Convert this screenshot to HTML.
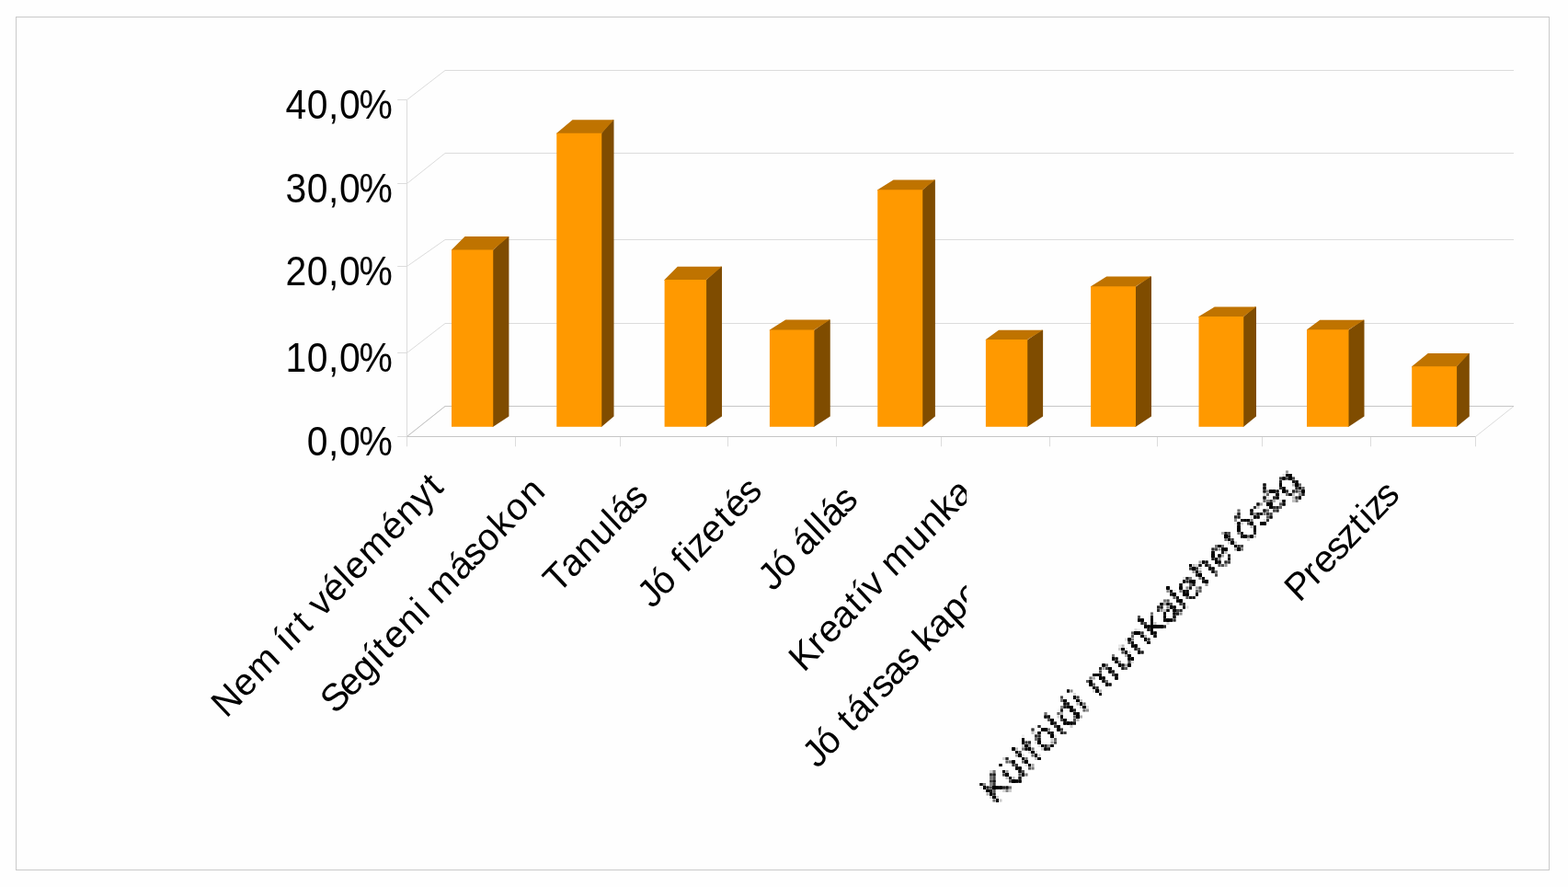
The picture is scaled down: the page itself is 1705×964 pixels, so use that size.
<!DOCTYPE html>
<html lang="hu">
<head>
<meta charset="utf-8">
<title>Diagram</title>
<style>
html,body{margin:0;padding:0;background:#fefefe;}
body{width:1705px;height:964px;overflow:hidden;position:relative;}
svg{position:absolute;left:0;top:0;display:block;}
text{font-family:"Liberation Sans",sans-serif;fill:#000;}
</style>
</head>
<body>
<svg width="1705" height="964" viewBox="0 0 1705 964">
<rect x="0" y="0" width="1705" height="964" fill="#fefefe"/>
<rect x="17.5" y="18.5" width="1667" height="927" fill="none" stroke="#c9c9c9" stroke-width="1"/>

<g fill="none" stroke="#dcdcdc" stroke-width="1">
<path d="M442.50 108.50 L484.00 76.50 L1646.00 76.50"/>
<path d="M442.50 199.50 L484.00 166.50 L1646.00 166.50"/>
<path d="M442.50 289.50 L484.00 260.50 L1646.00 260.50"/>
<path d="M442.50 383.50 L484.00 351.50 L1646.00 351.50"/>
<path d="M442.50 474.50 L484.00 441.50 L1646.00 441.50"/>
<path d="M1646.00 441.50 L1604.50 474.50"/>
</g>
<g fill="none" stroke="#c6c6c6" stroke-width="1">
<path d="M484.00 441.50 L1646.00 441.50"/>
<path d="M442.50 474.50 L484.00 441.50"/>
</g>
<g fill="none" stroke="#dcdcdc" stroke-width="1">
<path d="M442.50 108.50 L442.50 485.30"/>
<path d="M432.20 108.50 L442.50 108.50"/>
<path d="M432.20 199.50 L442.50 199.50"/>
<path d="M432.20 289.50 L442.50 289.50"/>
<path d="M432.20 383.50 L442.50 383.50"/>
<path d="M432.20 474.50 L442.50 474.50"/>
<path d="M560.50 474.50 L560.50 485.30"/>
<path d="M674.50 474.50 L674.50 485.30"/>
<path d="M791.50 474.50 L791.50 485.30"/>
<path d="M909.50 474.50 L909.50 485.30"/>
<path d="M1023.50 474.50 L1023.50 485.30"/>
<path d="M1141.50 474.50 L1141.50 485.30"/>
<path d="M1258.50 474.50 L1258.50 485.30"/>
<path d="M1372.50 474.50 L1372.50 485.30"/>
<path d="M1490.50 474.50 L1490.50 485.30"/>
<path d="M1604.50 474.50 L1604.50 485.30"/>
</g>
<path d="M442.50 474.50 L1604.50 474.50" fill="none" stroke="#c6c6c6" stroke-width="1"/>
<polygon points="535.25,272.50 551.90,257.00 553.40,257.00 553.40,452.60 536.25,463.80 535.25,463.80" fill="#7f4c00"/>
<polygon points="491.00,272.50 491.00,271.50 505.50,257.00 553.40,257.00 536.25,271.50 536.25,272.50" fill="#bf7300"/>
<rect x="491.00" y="271.50" width="45.25" height="192.30" fill="#ff9900"/>
<polygon points="653.25,145.75 666.00,130.25 667.50,130.25 667.50,452.60 654.25,463.80 653.25,463.80" fill="#7f4c00"/>
<polygon points="605.25,145.75 605.25,144.75 622.50,130.25 667.50,130.25 654.25,144.75 654.25,145.75" fill="#bf7300"/>
<rect x="605.25" y="144.75" width="49.00" height="319.05" fill="#ff9900"/>
<polygon points="767.10,305.00 783.50,289.75 785.00,289.75 785.00,452.60 768.10,463.80 767.10,463.80" fill="#7f4c00"/>
<polygon points="722.60,305.00 722.60,304.00 736.75,289.75 785.00,289.75 768.10,304.00 768.10,305.00" fill="#bf7300"/>
<rect x="722.60" y="304.00" width="45.50" height="159.80" fill="#ff9900"/>
<polygon points="884.40,359.50 901.25,347.50 902.75,347.50 902.75,452.60 885.40,463.80 884.40,463.80" fill="#7f4c00"/>
<polygon points="836.90,359.50 836.90,358.50 854.25,347.50 902.75,347.50 885.40,358.50 885.40,359.50" fill="#bf7300"/>
<rect x="836.90" y="358.50" width="48.50" height="105.30" fill="#ff9900"/>
<polygon points="1002.25,207.25 1015.40,195.50 1016.90,195.50 1016.90,452.60 1003.25,463.80 1002.25,463.80" fill="#7f4c00"/>
<polygon points="954.25,207.25 954.25,206.25 971.50,195.50 1016.90,195.50 1003.25,206.25 1003.25,207.25" fill="#bf7300"/>
<rect x="954.25" y="206.25" width="49.00" height="257.55" fill="#ff9900"/>
<polygon points="1116.25,370.00 1132.60,358.75 1134.10,358.75 1134.10,452.60 1117.25,463.80 1116.25,463.80" fill="#7f4c00"/>
<polygon points="1071.90,370.00 1071.90,369.00 1086.00,358.75 1134.10,358.75 1117.25,369.00 1117.25,370.00" fill="#bf7300"/>
<rect x="1071.90" y="369.00" width="45.35" height="94.80" fill="#ff9900"/>
<polygon points="1234.00,312.25 1250.50,300.50 1252.00,300.50 1252.00,452.60 1235.00,463.80 1234.00,463.80" fill="#7f4c00"/>
<polygon points="1186.10,312.25 1186.10,311.25 1203.25,300.50 1252.00,300.50 1235.00,311.25 1235.00,312.25" fill="#bf7300"/>
<rect x="1186.10" y="311.25" width="48.90" height="152.55" fill="#ff9900"/>
<polygon points="1351.25,345.00 1364.50,333.50 1366.00,333.50 1366.00,452.60 1352.25,463.80 1351.25,463.80" fill="#7f4c00"/>
<polygon points="1303.50,345.00 1303.50,344.00 1320.75,333.50 1366.00,333.50 1352.25,344.00 1352.25,345.00" fill="#bf7300"/>
<rect x="1303.50" y="344.00" width="48.75" height="119.80" fill="#ff9900"/>
<polygon points="1465.50,359.25 1482.00,347.75 1483.50,347.75 1483.50,452.60 1466.50,463.80 1465.50,463.80" fill="#7f4c00"/>
<polygon points="1421.00,359.25 1421.00,358.25 1435.25,347.75 1483.50,347.75 1466.50,358.25 1466.50,359.25" fill="#bf7300"/>
<rect x="1421.00" y="358.25" width="45.50" height="105.55" fill="#ff9900"/>
<polygon points="1583.10,399.20 1596.30,383.90 1597.80,383.90 1597.80,452.60 1584.10,463.80 1583.10,463.80" fill="#7f4c00"/>
<polygon points="1535.20,399.20 1535.20,398.20 1552.70,383.90 1597.80,383.90 1584.10,398.20 1584.10,399.20" fill="#bf7300"/>
<rect x="1535.20" y="398.20" width="48.90" height="65.60" fill="#ff9900"/>
<text font-size="44.30" transform="translate(425.30 128.70) scale(0.923 1)" x="-124.5 -99.1 -73.9 -61.0 -37.7">40,0%</text>
<text font-size="44.30" transform="translate(425.30 219.70) scale(0.923 1)" x="-124.5 -99.1 -73.9 -61.0 -37.7">30,0%</text>
<text font-size="44.30" transform="translate(425.30 310.40) scale(0.923 1)" x="-124.5 -99.1 -73.9 -61.0 -37.7">20,0%</text>
<text font-size="44.30" transform="translate(425.30 404.30) scale(0.923 1)" x="-124.5 -99.1 -73.9 -61.0 -37.7">10,0%</text>
<text font-size="44.30" transform="translate(425.30 495.30) scale(0.923 1)" x="-99.1 -73.9 -61.0 -37.7">0,0%</text>
<g>
<text font-size="39.60" transform="translate(485.30 530.20) scale(1 1.050) rotate(-45)" x="-338.4 -309.6 -286.2 -252.4 -242.2 -230.4 -214.1 -201.6 -190.9 -170.8 -148.0 -138.4 -115.0 -80.6 -57.8 -34.9 -13.0">Nem írt véleményt</text>
<text font-size="39.60" transform="translate(595.00 535.30) scale(1 1.050) rotate(-45)" x="-325.9 -302.1 -280.3 -259.0 -246.3 -233.1 -210.1 -186.5 -177.3 -165.3 -131.0 -110.3 -90.7 -67.5 -46.5 -22.8">Segíteni másokon</text>
<text font-size="39.60" transform="translate(705.90 542.30) scale(1 1.050) rotate(-45)" x="-140.0 -117.4 -95.1 -71.7 -48.3 -39.1 -18.6">Tanulás</text>
<text font-size="39.60" transform="translate(829.60 536.20) scale(1 1.050) rotate(-45)" x="-170.2 -152.3 -129.9 -117.9 -104.8 -96.3 -77.3 -53.0 -39.8 -18.7">Jó fizetés</text>
<text font-size="39.60" transform="translate(934.00 545.50) scale(1 1.050) rotate(-45)" x="-132.2 -114.3 -91.9 -81.5 -59.0 -48.7 -39.4 -18.7">Jó állás</text>
<text font-size="39.60" transform="translate(1059.00 537.50) scale(1 1.050) rotate(-45)" x="-261.7 -235.8 -221.5 -199.9 -176.3 -163.8 -153.2 -133.8 -122.0 -87.2 -64.0 -41.2 -21.6">Kreatív munka</text>
<text font-size="39.60" transform="translate(1161.50 550.00) scale(1 1.050) rotate(-45)" x="-385.7 -367.8 -345.4 -332.9 -320.1 -297.2 -283.9 -265.5 -244.9 -226.7 -215.9 -196.1 -173.6 -151.2 -133.0 -113.5 -90.0 -80.7 -57.0 -43.2 -20.1">Jó társas kapcsolatok</text>
</g>
<rect x="1051" y="496" width="344" height="440" fill="#fefefe"/>
<defs><filter id="px" filterUnits="userSpaceOnUse" primitiveUnits="userSpaceOnUse" x="1051" y="497" width="385" height="399" color-interpolation-filters="sRGB"><feGaussianBlur in="SourceGraphic" stdDeviation="1.0" result="b0"/><feComponentTransfer in="b0" result="b"><feFuncA type="linear" slope="1.5" intercept="-0.28"/></feComponentTransfer><feFlood x="1052" y="498" width="1" height="1" flood-color="#000" result="fa"/><feFlood x="1056" y="498" width="1" height="1" flood-color="#000" result="fb"/><feFlood x="1052" y="502" width="1" height="1" flood-color="#000" result="fc"/><feFlood x="1056" y="502" width="1" height="1" flood-color="#000" result="fd"/><feMerge x="1051" y="497" width="7" height="7" result="mall"><feMergeNode in="fa"/><feMergeNode in="fb"/><feMergeNode in="fc"/><feMergeNode in="fd"/></feMerge><feTile in="mall" result="tall"/><feComposite in="b" in2="tall" operator="in" result="sall"/><feMorphology in="sall" operator="dilate" radius="1" result="dall"/><feMerge x="1051" y="497" width="7" height="7" result="mx"><feMergeNode in="fa"/><feMergeNode in="fc"/></feMerge><feTile in="mx" result="tx"/><feComposite in="b" in2="tx" operator="in" result="sx"/><feMorphology in="sx" operator="dilate" radius="1" result="dx"/><feMerge x="1051" y="497" width="7" height="7" result="my"><feMergeNode in="fa"/><feMergeNode in="fb"/></feMerge><feTile in="my" result="ty"/><feComposite in="b" in2="ty" operator="in" result="sy"/><feMorphology in="sy" operator="dilate" radius="1" result="dy"/><feMerge x="1051" y="497" width="7" height="7" result="mxy"><feMergeNode in="fa"/></feMerge><feTile in="mxy" result="txy"/><feComposite in="b" in2="txy" operator="in" result="sxy"/><feMorphology in="sxy" operator="dilate" radius="1" result="dxy"/><feOffset in="dx" dx="1" dy="0" result="ox"/><feOffset in="dy" dx="0" dy="1" result="oy"/><feOffset in="dxy" dx="1" dy="1" result="oxy"/><feMerge><feMergeNode in="oxy"/><feMergeNode in="ox"/><feMergeNode in="oy"/><feMergeNode in="dall"/></feMerge></filter></defs>
<g filter="url(#px)" stroke="#000" stroke-width="0">
<text font-size="41.00" transform="translate(1416.70 526.50) scale(1 1.045) rotate(-45)" x="-472.5 -445.8 -421.3 -410.0 -396.2 -371.7 -360.9 -336.4 -326.9 -314.3 -277.7 -253.1 -229.1 -208.4 -185.0 -174.8 -150.9 -127.0 -101.8 -87.3 -64.7 -45.1 -22.4">Külföldi munkalehetőség</text>
</g>
<g>
<text font-size="39.60" transform="translate(1522.90 540.30) scale(1 1.050) rotate(-45)" x="-155.5 -129.8 -115.7 -95.1 -77.8 -57.4 -43.9 -35.7 -18.5">Presztizs</text>
</g>
</svg>
</body>
</html>
